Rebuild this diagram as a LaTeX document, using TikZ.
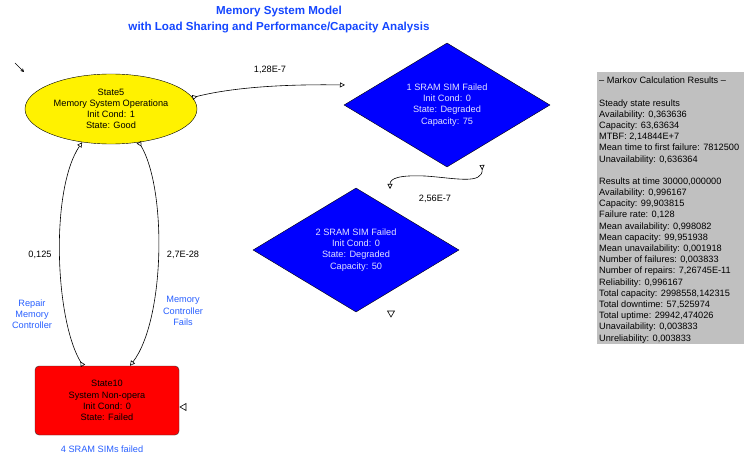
\documentclass[tikz,border=0pt]{standalone}
\usepackage{fontspec}
\setmainfont{Liberation Sans}
\usetikzlibrary{shapes.geometric,arrows.meta,calc}
\definecolor{titleblue}{RGB}{20,70,255}
\definecolor{noteblue}{RGB}{40,95,255}
\definecolor{boxgray}{RGB}{192,192,192}
\definecolor{simtext}{RGB}{225,225,255}
\begin{document}
\begin{tikzpicture}[x=1pt, y=-1pt,
  every node/.style={font=\fontsize{9.2}{11.2}\selectfont, align=center},
  link/.style={semithick, arrows={Triangle[open,reversed,length=5pt,width=5pt]-Triangle[open,length=5pt,width=5pt]}},
  note/.style={text=noteblue},
  simbox/.style={draw=black, fill=blue, text=simtext, diamond, aspect=1.66, inner sep=0pt, minimum width=206pt, minimum height=124pt}]
  \useasboundingbox (0,0) rectangle (744,457);
  \node[font=\bfseries\fontsize{11.6}{16}\selectfont, text=titleblue] (title) at (279,20) {Memory System Model\\with Load Sharing and Performance/Capacity Analysis};
  % states
  \node[draw=black, fill=yellow, ellipse, inner sep=0pt, minimum width=172pt, minimum height=70pt] (st5) at (111,109) {State5\\Memory System Operationa\\Init Cond: 1\\State: Good};
  \node[simbox] (sim1) at (447,105) {1 SRAM SIM Failed\\Init Cond: 0\\State: Degraded\\Capacity: 75};
  \node[simbox] (sim2) at (356,250) {2 SRAM SIM Failed\\Init Cond: 0\\State: Degraded\\Capacity: 50};
  \node[draw=black!80, fill=red, rounded corners=4pt, minimum width=144pt, minimum height=69pt] (st10) at (107,400.5) {State10\\System Non-opera\\Init Cond: 0\\State: Failed};
  \node[note] (st10note) at (102,449) {4 SRAM SIMs failed};
  % initial state marker
  \coordinate (init) at (15,63);
  \draw[-{Stealth[length=3.5pt,width=3.5pt]}] (init) -- ++(9,9);
  % transitions
  \coordinate (sim1in) at (345,85);
  \coordinate (sim1out) at (482,165);
  \coordinate (sim2in) at (390,189);
  \draw[link] (st5.8) .. controls (230,88) and (280,84) .. (sim1in);
  \node (r1) at (270,70) {1,28E-7};
  \draw[link] (sim1out) .. controls (483,185) and (455,178) .. (425,176) .. controls (400,175) and (390,178) .. (sim2in);
  \node (r2) at (435,199) {2,56E-7};
  \draw[link] ([xshift=-24pt]st10.north) .. controls (55,320) and (50,190) .. (st5.-131);
  \node (r3) at (40,255) {0,125};
  \node[note] (r3note) at (32,314) {Repair\\Memory\\Controller};
  \draw[link] (st5.-50) .. controls (167,190) and (165,320) .. ([xshift=23pt]st10.north);
  \node (r4) at (183,255) {2,7E-28};
  \node[note] (r4note) at (183,311) {Memory\\Controller\\Fails};
  % unused ports
  \draw[semithick, fill=white] (387.5,311) -- (394.5,311) -- (391,317) -- cycle;
  \draw[semithick, fill=white] (186,403.5) -- (186,410.5) -- (180,407) -- cycle;
  % results
  \node[fill=boxgray, anchor=north west, inner sep=0pt, minimum width=147pt, minimum height=272pt] (resbox) at (597,72) {};
  \node[anchor=north west, align=left, inner sep=0pt] (res) at ([shift={(2,5)}]resbox.north west) {%
    -- Markov Calculation Results --\\[11pt]
    Steady state results\\
    Availability: 0,363636\\
    Capacity: 63,63634\\
    MTBF: 2,14844E+7\\
    Mean time to first failure: 7812500\\
    Unavailability: 0,636364\\[11pt]
    Results at time 30000,000000\\
    Availability: 0,996167\\
    Capacity: 99,903815\\
    Failure rate: 0,128\\
    Mean availability: 0,998082\\
    Mean capacity: 99,951938\\
    Mean unavailability: 0,001918\\
    Number of failures: 0,003833\\
    Number of repairs: 7,26745E-11\\
    Reliability: 0,996167\\
    Total capacity: 2998558,142315\\
    Total downtime: 57,525974\\
    Total uptime: 29942,474026\\
    Unavailability: 0,003833\\
    Unreliability: 0,003833};
\end{tikzpicture}
\end{document}
